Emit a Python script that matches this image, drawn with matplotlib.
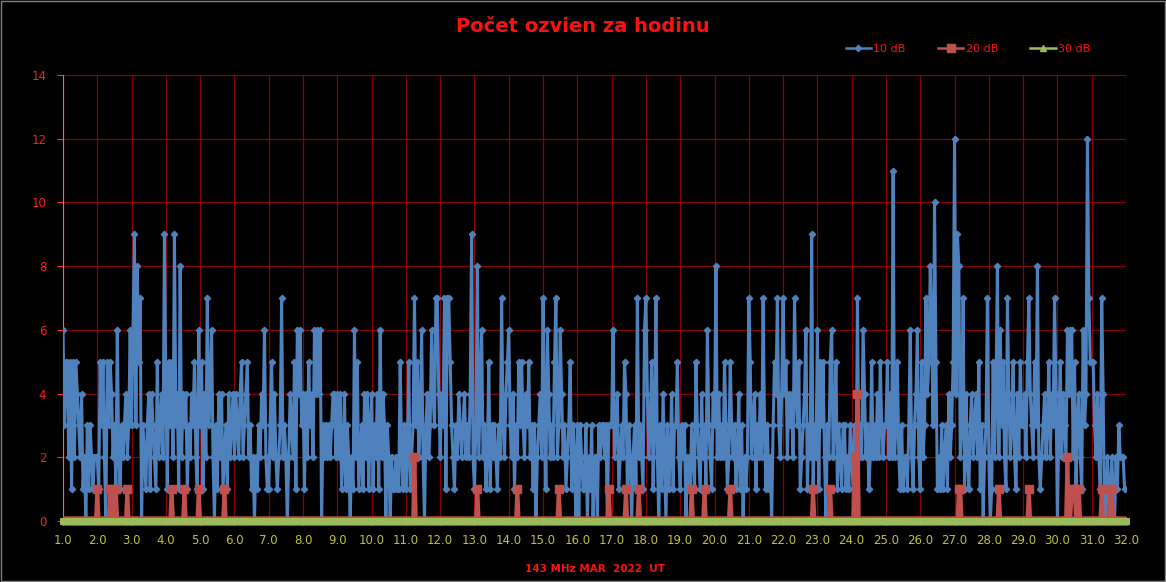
import matplotlib
matplotlib.use("Agg")
import matplotlib.pyplot as plt
import numpy as np

title = "Počet ozvien za hodinu"
xlabel = "143 MHz MAR  2022  UT"
series_names = ["10 dB", "20 dB", "30 dB"]

# hourly counts, 10 dB, one row per day (24 hours)
db10_days = [
    [6,3,5,5,2,5,1,5,2,5,4,3,2,4,1,2,0,3,1,3,2,1,2,2],
    [2,1,5,3,5,2,0,5,3,5,4,2,3,1,6,2,1,3,2,3,4,2,3,6],
    [3,6,9,3,8,5,7,0,3,2,1,3,4,1,4,3,2,1,5,2,3,4,2,9],
    [4,1,5,3,5,2,9,3,4,1,8,2,4,3,4,1,3,2,4,3,5,2,1,6],
    [3,5,1,4,2,7,3,4,6,2,0,3,1,4,2,4,1,2,3,1,4,2,3,4],
    [2,4,3,2,4,5,2,3,4,5,2,3,1,2,0,2,1,3,2,4,3,6,2,1],
    [1,3,5,2,4,2,1,2,3,7,2,3,2,0,2,4,3,2,5,1,6,4,6,3],
    [4,1,4,2,5,3,4,2,6,4,6,4,6,0,3,2,3,2,3,2,3,4,4,2],
    [4,2,4,1,2,4,1,3,2,0,2,1,6,2,5,1,2,3,1,4,2,4,1,3],
    [4,1,3,2,4,1,6,2,4,3,0,3,2,0,2,1,1,2,1,1,5,2,1,3],
    [1,2,5,1,2,3,7,3,5,2,3,6,2,0,3,4,2,3,6,4,3,7,7,4],
    [2,4,3,7,1,7,7,5,3,2,1,3,2,4,3,2,3,4,2,3,2,4,9,2],
    [1,3,8,2,4,6,2,3,1,2,5,1,3,2,3,2,1,3,2,7,3,2,4,5],
    [6,3,2,4,1,3,2,5,3,5,3,2,4,3,5,2,3,1,3,0,2,3,4,2],
    [7,3,1,6,4,2,3,2,5,7,2,3,6,4,2,3,1,2,3,5,1,3,2,0],
    [3,0,3,2,1,1,3,0,2,1,3,0,2,2,0,3,2,3,3,2,3,0,3,3],
    [3,6,2,3,4,1,2,3,2,5,4,1,3,2,0,2,3,1,7,2,3,2,1,6],
    [7,4,2,3,5,1,3,7,2,0,3,1,4,2,0,3,1,2,4,1,3,3,5,2],
    [1,3,2,3,0,2,2,1,3,2,1,5,3,2,1,4,2,3,1,6,3,2,1,4],
    [3,8,2,4,2,3,2,5,3,1,2,5,3,2,3,1,2,4,1,3,0,2,1,2],
    [7,5,2,3,4,1,3,2,4,2,7,3,1,3,1,2,0,3,5,4,7,3,2,4],
    [7,4,5,2,4,3,4,2,7,4,3,5,1,2,3,4,6,1,3,2,9,1,3,2],
    [6,1,5,3,5,2,0,3,2,5,6,2,3,5,1,3,2,1,3,3,1,2,1,3],
    [2,1,3,0,7,2,3,2,6,4,2,3,1,2,5,2,3,2,4,2,5,3,2,3],
    [3,5,2,4,2,11,2,3,5,2,1,3,1,2,2,1,3,6,2,1,3,4,6,2],
    [1,5,2,3,7,4,5,8,6,3,10,5,1,2,1,3,1,2,3,1,4,2,3,5],
    [12,4,9,8,2,3,7,1,4,2,1,3,4,2,3,4,2,5,1,3,0,2,3,7],
    [2,0,1,5,2,4,8,2,6,3,5,2,1,7,4,2,3,5,2,1,4,2,5,3],
    [3,4,2,5,7,4,3,2,5,3,8,2,1,2,3,4,2,3,5,2,4,3,7,4],
    [0,3,5,2,4,3,2,6,4,6,6,2,5,1,3,4,2,1,6,3,4,12,7,5],
    [5,5,3,2,4,2,1,7,4,0,0,2,1,0,2,1,0,2,1,3,2,2,2,1],
]

# 20 dB: hours (index from start of month) with non-zero counts
db20_hours = [24, 33, 34, 37, 45, 76, 85, 95, 113, 246, 290, 318, 347, 382, 394,
              403, 440, 449, 467, 525, 537, 554, 556, 627, 628, 655, 676, 703,
              706, 707, 708, 710, 711, 727, 733, 734]
db20_counts = [1, 1, 1, 1, 1, 1, 1, 1, 1, 2, 1, 1, 1, 1, 1,
               1, 1, 1, 1, 1, 1, 2, 4, 1, 1, 1, 1, 2,
               1, 1, 1, 1, 1, 1, 1, 1]

# 30 dB: no echoes
db30_total = 0

db10 = np.array([v for day in db10_days for v in day], dtype=float)
n = len(db10)
hours = np.arange(n)
xs = 1 + hours / 24.0
db20 = np.zeros(n)
for h, c in zip(db20_hours, db20_counts):
    db20[h] = c
db30 = np.full(n + 1, db30_total, dtype=float)
xs30 = 1 + np.arange(n + 1) / 24.0

fig = plt.figure(figsize=(11.66, 5.82), dpi=100, facecolor="black")
ax = fig.add_axes([63/1166, 1 - 521/582, (1126-63)/1166, (521-75)/582])
ax.set_facecolor("black")

blue = "#4f81bd"
red = "#c0504d"
green = "#9bbb59"

ax.plot(xs, db10, color=blue, lw=2.2, marker="D", ms=3.2, mec=blue, mfc=blue, label=series_names[0], zorder=3)
ax.plot(xs, db20, color=red, lw=2.8, marker="s", ms=5.5, mec=red, mfc=red, label=series_names[1], zorder=4)
ax.plot(xs30, db30, color=green, lw=5, marker="^", ms=4, mec=green, mfc=green, label=series_names[2], zorder=5, clip_on=False)

ax.set_xlim(1, 32)
ax.set_ylim(0, 14)
ax.set_xticks(np.arange(1, 33))
ax.set_xticklabels([f"{v:.1f}" for v in range(1, 33)])
ax.set_yticks(np.arange(0, 15, 2))
ax.grid(True, color="#8b0000", lw=0.9)
ax.set_axisbelow(True)

for s in ["top", "right"]:
    ax.spines[s].set_visible(False)
ax.spines["left"].set_color("#ff6060")
ax.spines["bottom"].set_color("#8b0000")
ax.tick_params(axis="x", colors="#c8c832", labelsize=8.5, length=3, pad=6)
ax.tick_params(axis="y", colors="#ff3030", labelsize=8.5, length=4, pad=8)
for t in ax.get_yticklabels():
    t.set_color("#ff2020")
for t in ax.get_xticklabels():
    t.set_color("#c0c040")

fig.text(583/1166, 1 - 27/582, title, color="#ff1010", fontsize=14, fontweight="bold",
         ha="center", va="center")
fig.text(595/1166, 1 - 569/582, xlabel, color="#ff1010", fontsize=7.5, fontweight="bold",
         ha="center", va="center")

leg = fig.legend(loc="center", bbox_to_anchor=(968/1166, 1 - 49/582), ncol=3, frameon=False,
                 fontsize=8, handlelength=2.3, columnspacing=2.9, handletextpad=0.2,
                 labelcolor="#ff1010")
for h in leg.legend_handles:
    h.set_linewidth(1.8)

# thin border around figure
fig.patches.append(plt.Rectangle((0.001, 0.001), 0.998, 0.998, transform=fig.transFigure,
                                 fill=False, ec="#808080", lw=1))

fig.savefig("out.png", dpi=100, facecolor="black")
